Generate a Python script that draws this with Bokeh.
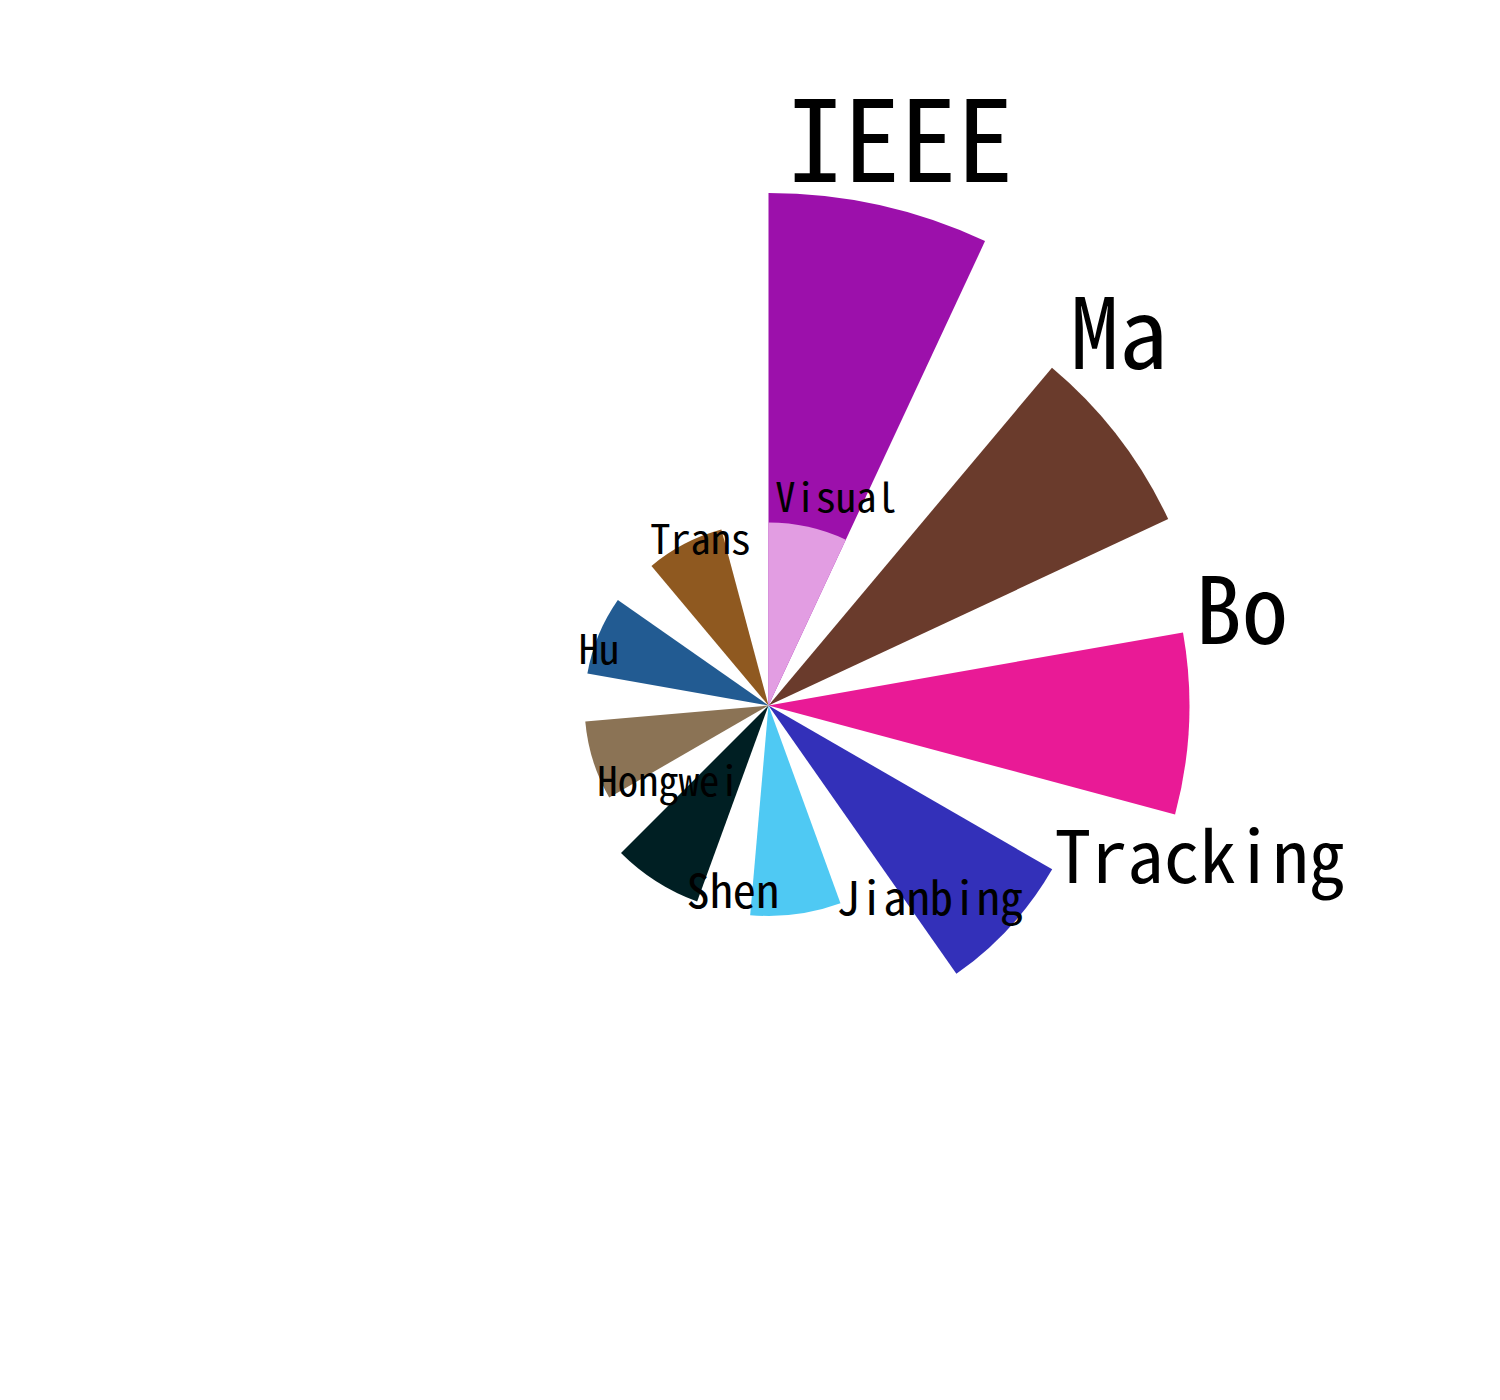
import math
from bokeh.plotting import figure
from bokeh.models import ColumnDataSource, Range1d
from bokeh.core.properties import value
from bokeh.embed import file_html
from bokeh.resources import INLINE

# ---- data ----
labels = ["IEEE", "Ma", "Bo", "Tracking", "Jianbing", "Shen", "Hongwei", "Hu", "Trans", "Visual"]
values = [28.0, 24.1, 23.0, 17.9, 11.5, 11.4, 10.05, 10.05, 9.95, 10.0]
colors = ["#9C10AB", "#6A3B2C", "#E91A96", "#3330B9", "#4FC9F3",
          "#001F23", "#8B7355", "#225B92", "#8F5920", "#E29DE2"]

# ---- layout ----
PX_PER_UNIT = 18.3      # radius scale
FONT_PER_UNIT = 4.05    # label size scale
STEP = 40.0             # degrees between sector starts (clockwise)
WIDTH = 25.0            # sector angular width

starts, ends, radii, lx, ly, fsz, yoff = [], [], [], [], [], [], []
for i, v in enumerate(values):
    top = 90.0 - STEP * i          # clockwise start edge
    r = v * PX_PER_UNIT
    starts.append(math.radians(top - WIDTH))
    ends.append(math.radians(top))
    radii.append(r)
    a = math.radians(top - 2.0)
    rt = r + 10
    lx.append(rt * math.cos(a))
    ly.append(rt * math.sin(a))
    size = v * FONT_PER_UNIT
    fsz.append(f"{size:.1f}px")
    yoff.append(-0.45 * size)

src = ColumnDataSource(dict(label=labels, r=radii, start=starts, end=ends,
                            color=colors, lx=lx, ly=ly, fs=fsz, yo=yoff,
                            x0=[0] * len(labels), y0=[0] * len(labels)))

p = figure(width=1500, height=1400, output_backend="svg", toolbar_location=None,
           x_range=Range1d(-768, 732), y_range=Range1d(-695, 705),
           min_border=0, min_border_left=0, min_border_right=0,
           min_border_top=0, min_border_bottom=0)
p.axis.visible = False
p.grid.visible = False
p.outline_line_color = None
p.background_fill_color = "white"
p.border_fill_color = "white"

p.wedge(x="x0", y="y0", radius="r", start_angle="start", end_angle="end",
        direction="anticlock", fill_color="color", line_color=None, source=src)

p.text(x="lx", y="ly", text="label", text_font_size="fs", y_offset="yo",
       text_font=value("'Noto Sans Mono CJK SC', 'DejaVu Sans Mono', monospace"),
       text_align="left", text_baseline="alphabetic", text_color="black", source=src)

open("out.html", "w").write(file_html(p, INLINE))
